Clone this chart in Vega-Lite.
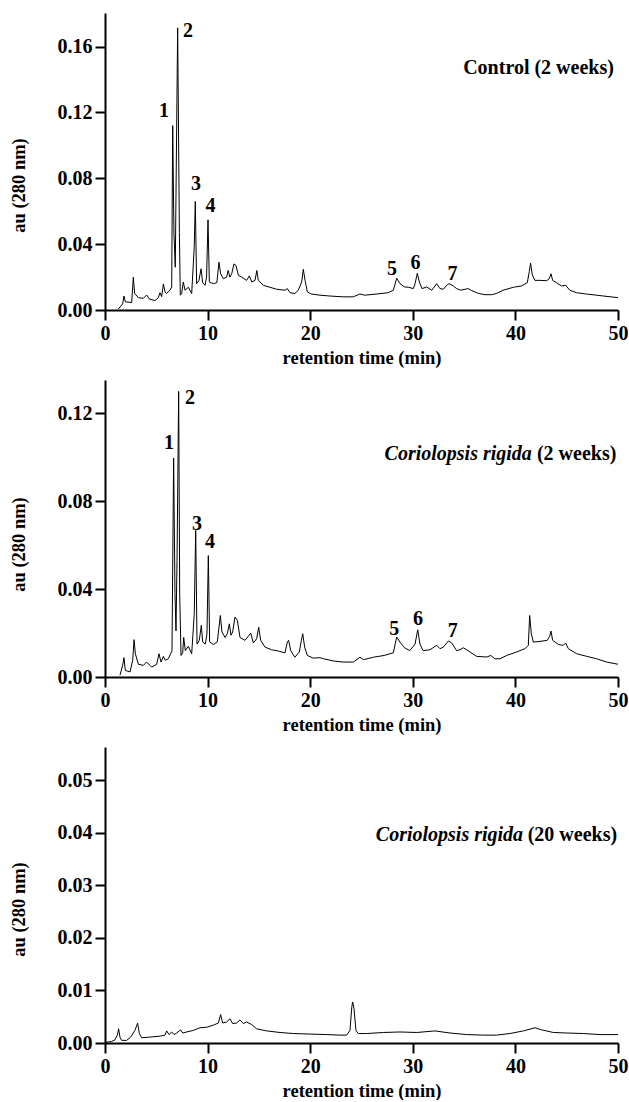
{
  "$schema": "https://vega.github.io/schema/vega-lite/v6.json",
  "padding": {"left": 9, "top": 13, "right": 5, "bottom": 0},
  "background": "white",
  "spacing": 13,
  "config": {
    "view": {"stroke": null},
    "font": "Liberation Serif",
    "axis": {
      "grid": false,
      "domainColor": "black",
      "domainWidth": 2,
      "tickColor": "black",
      "tickWidth": 2,
      "tickSize": 10,
      "labelFont": "Liberation Serif",
      "labelFontSize": 20,
      "labelFontWeight": "bold",
      "labelColor": "black",
      "labelPadding": 3,
      "labelFlush": false,
      "titleFont": "Liberation Serif",
      "titleFontSize": 18.5,
      "titleFontWeight": "bold",
      "titleColor": "black"
    },
    "axisX": {"titlePadding": 5},
    "axisY": {"titlePadding": 29}
  },
  "datasets": {
    "control": [
      {"t":1.3,"au":0.0006},{"t":1.72,"au":0.0037},{"t":1.85,"au":0.0085},{"t":1.98,"au":0.005},{"t":2.6,"au":0.0045},{"t":2.76,"au":0.0199},{"t":2.89,"au":0.0101},{"t":3.25,"au":0.0075},{"t":3.74,"au":0.0071},{"t":4.06,"au":0.0091},{"t":4.32,"au":0.0067},{"t":4.87,"au":0.0057},{"t":5.2,"au":0.0075},{"t":5.36,"au":0.0105},{"t":5.52,"au":0.0081},{"t":5.69,"au":0.0158},{"t":5.85,"au":0.011},{"t":6.0,"au":0.01},{"t":6.33,"au":0.012},{"t":6.5,"au":0.014},{"t":6.6,"au":0.112},{"t":6.72,"au":0.0467},{"t":6.85,"au":0.026},{"t":7.08,"au":0.1714},{"t":7.25,"au":0.047},{"t":7.34,"au":0.009},{"t":7.47,"au":0.01},{"t":7.63,"au":0.017},{"t":7.8,"au":0.012},{"t":8.12,"au":0.0138},{"t":8.45,"au":0.01},{"t":8.7,"au":0.0385},{"t":8.8,"au":0.066},{"t":8.93,"au":0.016},{"t":9.16,"au":0.018},{"t":9.36,"au":0.025},{"t":9.52,"au":0.0166},{"t":9.75,"au":0.015},{"t":9.9,"au":0.02},{"t":10.04,"au":0.0548},{"t":10.17,"au":0.017},{"t":10.56,"au":0.016},{"t":10.9,"au":0.0166},{"t":11.11,"au":0.029},{"t":11.27,"au":0.022},{"t":11.53,"au":0.019},{"t":11.86,"au":0.02},{"t":12.0,"au":0.024},{"t":12.18,"au":0.02},{"t":12.35,"au":0.022},{"t":12.57,"au":0.028},{"t":12.77,"au":0.027},{"t":13.0,"au":0.021},{"t":13.32,"au":0.02},{"t":13.8,"au":0.018},{"t":14.07,"au":0.0207},{"t":14.3,"au":0.017},{"t":14.62,"au":0.018},{"t":14.8,"au":0.024},{"t":14.94,"au":0.018},{"t":15.43,"au":0.015},{"t":16.08,"au":0.0138},{"t":16.73,"au":0.0126},{"t":17.54,"au":0.012},{"t":17.77,"au":0.013},{"t":18.03,"au":0.0105},{"t":18.5,"au":0.01},{"t":18.84,"au":0.012},{"t":19.17,"au":0.017},{"t":19.33,"au":0.0247},{"t":19.5,"au":0.018},{"t":19.72,"au":0.011},{"t":20.1,"au":0.0097},{"t":20.95,"au":0.009},{"t":21.9,"au":0.0085},{"t":23.2,"au":0.008},{"t":24.2,"au":0.008},{"t":24.85,"au":0.0097},{"t":25.3,"au":0.009},{"t":26.5,"au":0.0097},{"t":27.6,"au":0.0105},{"t":28.1,"au":0.012},{"t":28.43,"au":0.0193},{"t":28.75,"au":0.016},{"t":29.2,"au":0.014},{"t":29.6,"au":0.0138},{"t":30.05,"au":0.013},{"t":30.22,"au":0.016},{"t":30.44,"au":0.0223},{"t":30.64,"au":0.017},{"t":30.9,"au":0.013},{"t":31.35,"au":0.014},{"t":31.85,"au":0.012},{"t":32.33,"au":0.016},{"t":32.65,"au":0.013},{"t":32.98,"au":0.0126},{"t":33.3,"au":0.015},{"t":33.56,"au":0.016},{"t":33.95,"au":0.0146},{"t":34.27,"au":0.013},{"t":34.66,"au":0.012},{"t":35.09,"au":0.0126},{"t":35.4,"au":0.013},{"t":35.74,"au":0.0118},{"t":36.39,"au":0.0101},{"t":37.04,"au":0.0093},{"t":37.68,"au":0.0093},{"t":38.18,"au":0.0101},{"t":38.8,"au":0.012},{"t":39.8,"au":0.0138},{"t":40.6,"au":0.0146},{"t":41.16,"au":0.0166},{"t":41.35,"au":0.0233},{"t":41.48,"au":0.0284},{"t":41.65,"au":0.0213},{"t":41.9,"au":0.018},{"t":42.4,"au":0.018},{"t":43.05,"au":0.0178},{"t":43.3,"au":0.019},{"t":43.47,"au":0.022},{"t":43.63,"au":0.018},{"t":44.0,"au":0.0166},{"t":44.5,"au":0.0146},{"t":44.9,"au":0.015},{"t":45.3,"au":0.012},{"t":45.97,"au":0.0105},{"t":46.9,"au":0.0097},{"t":47.9,"au":0.009},{"t":48.57,"au":0.0085},{"t":50.0,"au":0.0075}
    ],
    "cr2": [
      {"t":1.46,"au":0.0008},{"t":1.72,"au":0.0053},{"t":1.85,"au":0.0088},{"t":1.98,"au":0.003},{"t":2.44,"au":0.0023},{"t":2.7,"au":0.0076},{"t":2.83,"au":0.017},{"t":2.96,"au":0.0106},{"t":3.25,"au":0.0058},{"t":3.74,"au":0.0053},{"t":4.06,"au":0.0068},{"t":4.55,"au":0.0045},{"t":5.04,"au":0.0058},{"t":5.26,"au":0.0106},{"t":5.46,"au":0.0068},{"t":5.69,"au":0.0094},{"t":5.88,"au":0.0076},{"t":6.17,"au":0.0083},{"t":6.4,"au":0.0106},{"t":6.53,"au":0.012},{"t":6.69,"au":0.0997},{"t":6.82,"au":0.038},{"t":6.92,"au":0.021},{"t":7.02,"au":0.053},{"t":7.18,"au":0.13},{"t":7.28,"au":0.038},{"t":7.41,"au":0.0098},{"t":7.57,"au":0.011},{"t":7.67,"au":0.018},{"t":7.83,"au":0.012},{"t":8.12,"au":0.014},{"t":8.45,"au":0.0106},{"t":8.7,"au":0.0288},{"t":8.84,"au":0.0667},{"t":8.97,"au":0.015},{"t":9.19,"au":0.0167},{"t":9.39,"au":0.0235},{"t":9.52,"au":0.016},{"t":9.78,"au":0.015},{"t":9.94,"au":0.0197},{"t":10.07,"au":0.0553},{"t":10.2,"au":0.016},{"t":10.56,"au":0.0148},{"t":10.95,"au":0.016},{"t":11.24,"au":0.028},{"t":11.4,"au":0.0205},{"t":11.7,"au":0.018},{"t":11.92,"au":0.0197},{"t":12.12,"au":0.0242},{"t":12.28,"au":0.019},{"t":12.44,"au":0.0205},{"t":12.67,"au":0.0273},{"t":12.9,"au":0.0258},{"t":13.16,"au":0.018},{"t":13.65,"au":0.0167},{"t":14.2,"au":0.02},{"t":14.46,"au":0.0155},{"t":14.78,"au":0.0174},{"t":14.98,"au":0.0227},{"t":15.17,"au":0.0167},{"t":15.6,"au":0.0136},{"t":16.24,"au":0.0124},{"t":16.9,"au":0.0118},{"t":17.54,"au":0.011},{"t":17.77,"au":0.0159},{"t":17.9,"au":0.0167},{"t":18.1,"au":0.012},{"t":18.5,"au":0.009},{"t":18.94,"au":0.0114},{"t":19.14,"au":0.0167},{"t":19.27,"au":0.0197},{"t":19.46,"au":0.0136},{"t":19.72,"au":0.0098},{"t":20.3,"au":0.0086},{"t":20.95,"au":0.0088},{"t":21.3,"au":0.0083},{"t":22.25,"au":0.0073},{"t":23.2,"au":0.0068},{"t":24.2,"au":0.0068},{"t":24.85,"au":0.009},{"t":25.2,"au":0.0079},{"t":26.15,"au":0.009},{"t":27.2,"au":0.0098},{"t":28.1,"au":0.011},{"t":28.43,"au":0.0182},{"t":28.75,"au":0.0159},{"t":29.2,"au":0.0133},{"t":29.7,"au":0.012},{"t":30.22,"au":0.015},{"t":30.48,"au":0.0215},{"t":30.7,"au":0.015},{"t":31.0,"au":0.012},{"t":31.67,"au":0.0124},{"t":32.33,"au":0.0144},{"t":32.65,"au":0.0129},{"t":32.98,"au":0.0136},{"t":33.47,"au":0.0164},{"t":33.79,"au":0.0155},{"t":34.27,"au":0.012},{"t":34.6,"au":0.0124},{"t":34.92,"au":0.0133},{"t":35.25,"au":0.0124},{"t":35.57,"au":0.0114},{"t":36.22,"au":0.0094},{"t":37.2,"au":0.0091},{"t":37.6,"au":0.0098},{"t":38.0,"au":0.0083},{"t":38.5,"au":0.0083},{"t":39.15,"au":0.0098},{"t":40.12,"au":0.0114},{"t":40.94,"au":0.0129},{"t":41.26,"au":0.0144},{"t":41.39,"au":0.028},{"t":41.55,"au":0.0197},{"t":41.75,"au":0.0159},{"t":42.4,"au":0.0162},{"t":43.1,"au":0.0167},{"t":43.34,"au":0.0185},{"t":43.47,"au":0.0209},{"t":43.63,"au":0.0167},{"t":44.19,"au":0.0148},{"t":44.67,"au":0.0144},{"t":44.9,"au":0.0155},{"t":45.16,"au":0.0129},{"t":45.97,"au":0.0106},{"t":46.95,"au":0.0094},{"t":47.92,"au":0.0083},{"t":48.9,"au":0.0068},{"t":50.0,"au":0.0058}
    ],
    "cr20": [
      {"t":0,"au":0.0001},{"t":0.65,"au":0.0003},{"t":0.97,"au":0.0006},{"t":1.2,"au":0.0015},{"t":1.33,"au":0.0027},{"t":1.46,"au":0.0011},{"t":1.62,"au":0.0005},{"t":2.11,"au":0.0005},{"t":2.5,"au":0.0011},{"t":2.92,"au":0.0024},{"t":3.18,"au":0.0038},{"t":3.35,"au":0.0018},{"t":3.57,"au":0.001},{"t":4.22,"au":0.0011},{"t":5.36,"au":0.0013},{"t":5.85,"au":0.0015},{"t":6.01,"au":0.0023},{"t":6.24,"au":0.0016},{"t":6.5,"au":0.0021},{"t":6.73,"au":0.0016},{"t":6.99,"au":0.0019},{"t":7.37,"au":0.0025},{"t":7.57,"au":0.0019},{"t":7.96,"au":0.0021},{"t":8.61,"au":0.0024},{"t":9.26,"au":0.0029},{"t":9.91,"au":0.003},{"t":10.56,"au":0.0034},{"t":11.05,"au":0.0038},{"t":11.27,"au":0.0054},{"t":11.47,"au":0.0038},{"t":11.86,"au":0.004},{"t":12.18,"au":0.0046},{"t":12.44,"au":0.0037},{"t":12.83,"au":0.0038},{"t":13.16,"au":0.0044},{"t":13.48,"au":0.0037},{"t":13.8,"au":0.004},{"t":14.3,"au":0.0035},{"t":14.78,"au":0.0027},{"t":15.76,"au":0.0023},{"t":17.06,"au":0.002},{"t":18.36,"au":0.0018},{"t":19.98,"au":0.0017},{"t":21.6,"au":0.0016},{"t":22.9,"au":0.0015},{"t":23.55,"au":0.0015},{"t":23.88,"au":0.0024},{"t":24.05,"au":0.0068},{"t":24.14,"au":0.0078},{"t":24.27,"au":0.0065},{"t":24.46,"au":0.0024},{"t":24.69,"au":0.0018},{"t":25.5,"au":0.0018},{"t":27.13,"au":0.002},{"t":28.75,"au":0.0021},{"t":30.38,"au":0.002},{"t":32.16,"au":0.0023},{"t":33.63,"au":0.0019},{"t":35.25,"au":0.0016},{"t":36.88,"au":0.0015},{"t":38.17,"au":0.0015},{"t":39.47,"au":0.0018},{"t":40.77,"au":0.0023},{"t":41.91,"au":0.0029},{"t":42.56,"au":0.0025},{"t":43.7,"au":0.002},{"t":45.0,"au":0.0019},{"t":46.63,"au":0.0018},{"t":48.25,"au":0.0016},{"t":50.0,"au":0.0016}
    ],
    "peaks_control": [
      {"t":5.75,"au":0.1174,"label":"1"},{"t":8.09,"au":0.166,"label":"2"},{"t":8.87,"au":0.073,"label":"3"},{"t":10.28,"au":0.0596,"label":"4"},{"t":27.97,"au":0.0213,"label":"5"},{"t":30.26,"au":0.025,"label":"6"},{"t":33.87,"au":0.0183,"label":"7"}
    ],
    "peaks_cr2": [
      {"t":6.24,"au":0.104,"label":"1"},{"t":8.28,"au":0.1245,"label":"2"},{"t":8.97,"au":0.0668,"label":"3"},{"t":10.23,"au":0.0586,"label":"4"},{"t":28.2,"au":0.0191,"label":"5"},{"t":30.5,"au":0.0236,"label":"6"},{"t":33.9,"au":0.0182,"label":"7"}
    ],
    "title_control": [{"t":49.6,"au":0.1436,"label":"Control (2 weeks)"}],
    "title_cr2_species": [{"t":41.6,"au":0.0986,"label":"Coriolopsis rigida"}],
    "title_cr2_time": [{"t":42.1,"au":0.0986,"label":"(2 weeks)"}],
    "title_cr20_species": [{"t":40.75,"au":0.0384,"label":"Coriolopsis rigida"}],
    "title_cr20_time": [{"t":41.2,"au":0.0384,"label":"(20 weeks)"}]
  },
  "vconcat": [
    {
      "width": 513,
      "height": 297,
      "encoding": {
        "x": {"field": "t", "type": "quantitative", "scale": {"domain": [0, 50], "nice": false}, "axis": {"values": [0, 10, 20, 30, 40, 50], "title": "retention time (min)"}},
        "y": {"field": "au", "type": "quantitative", "scale": {"domain": [0, 0.1804], "nice": false}, "axis": {"values": [0, 0.04, 0.08, 0.12, 0.16], "format": ".2f", "title": "au (280 nm)", "titleY": 172}}
      },
      "layer": [
        {"data": {"name": "control"}, "mark": {"type": "line", "color": "black", "strokeWidth": 1, "interpolate": "linear"}},
        {"data": {"name": "peaks_control"}, "mark": {"type": "text", "font": "Liberation Serif", "fontSize": 20, "fontWeight": "bold", "align": "center", "baseline": "alphabetic", "color": "black"}, "encoding": {"text": {"field": "label"}}},
        {"data": {"name": "title_control"}, "mark": {"type": "text", "font": "Liberation Serif", "fontSize": 20, "fontWeight": "bold", "align": "right", "baseline": "alphabetic", "color": "black"}, "encoding": {"text": {"field": "label"}}}
      ]
    },
    {
      "width": 513,
      "height": 297,
      "encoding": {
        "x": {"field": "t", "type": "quantitative", "scale": {"domain": [0, 50], "nice": false}, "axis": {"values": [0, 10, 20, 30, 40, 50], "title": "retention time (min)"}},
        "y": {"field": "au", "type": "quantitative", "scale": {"domain": [0, 0.1352], "nice": false}, "axis": {"values": [0, 0.04, 0.08, 0.12], "format": ".2f", "title": "au (280 nm)", "titleY": 164}}
      },
      "layer": [
        {"data": {"name": "cr2"}, "mark": {"type": "line", "color": "black", "strokeWidth": 1, "interpolate": "linear"}},
        {"data": {"name": "peaks_cr2"}, "mark": {"type": "text", "font": "Liberation Serif", "fontSize": 20, "fontWeight": "bold", "align": "center", "baseline": "alphabetic", "color": "black"}, "encoding": {"text": {"field": "label"}}},
        {"data": {"name": "title_cr2_species"}, "mark": {"type": "text", "font": "Liberation Serif", "fontSize": 20, "fontWeight": "bold", "fontStyle": "italic", "align": "right", "baseline": "alphabetic", "color": "black"}, "encoding": {"text": {"field": "label"}}},
        {"data": {"name": "title_cr2_time"}, "mark": {"type": "text", "font": "Liberation Serif", "fontSize": 20, "fontWeight": "bold", "align": "left", "baseline": "alphabetic", "color": "black"}, "encoding": {"text": {"field": "label"}}}
      ]
    },
    {
      "width": 513,
      "height": 296,
      "encoding": {
        "x": {"field": "t", "type": "quantitative", "scale": {"domain": [0, 50], "nice": false}, "axis": {"values": [0, 10, 20, 30, 40, 50], "title": "retention time (min)"}},
        "y": {"field": "au", "type": "quantitative", "scale": {"domain": [0, 0.0563], "nice": false}, "axis": {"values": [0, 0.01, 0.02, 0.03, 0.04, 0.05], "format": ".2f", "title": "au (280 nm)", "titleY": 162}}
      },
      "layer": [
        {"data": {"name": "cr20"}, "mark": {"type": "line", "color": "black", "strokeWidth": 1, "interpolate": "linear"}},
        {"data": {"name": "title_cr20_species"}, "mark": {"type": "text", "font": "Liberation Serif", "fontSize": 20, "fontWeight": "bold", "fontStyle": "italic", "align": "right", "baseline": "alphabetic", "color": "black"}, "encoding": {"text": {"field": "label"}}},
        {"data": {"name": "title_cr20_time"}, "mark": {"type": "text", "font": "Liberation Serif", "fontSize": 20, "fontWeight": "bold", "align": "left", "baseline": "alphabetic", "color": "black"}, "encoding": {"text": {"field": "label"}}}
      ]
    }
  ]
}
